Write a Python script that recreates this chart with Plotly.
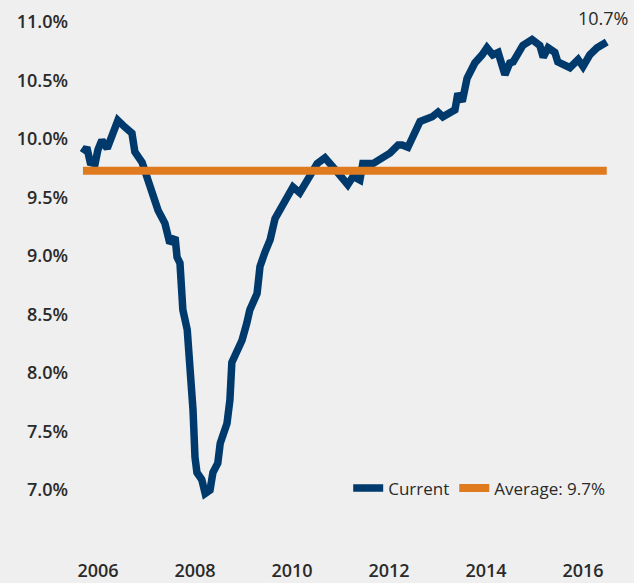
import plotly.graph_objects as go

# Decimal-year dates and values (%)
years = [2005.69, 2005.77, 2005.84, 2005.94, 2006.00, 2006.08, 2006.19, 2006.29, 2006.41, 2006.56,
         2006.70, 2006.76, 2006.91, 2007.03, 2007.18, 2007.24, 2007.38, 2007.48, 2007.59, 2007.63,
         2007.69, 2007.75, 2007.84, 2007.90, 2007.94, 2007.96, 2008.00, 2008.04, 2008.14, 2008.21,
         2008.31, 2008.37, 2008.47, 2008.52, 2008.66, 2008.72, 2008.76, 2008.87, 2008.97, 2009.07,
         2009.13, 2009.28, 2009.34, 2009.44, 2009.55, 2009.65, 2009.81, 2010.02, 2010.16, 2010.37,
         2010.52, 2010.68, 2010.82, 2010.95, 2011.15, 2011.26, 2011.40, 2011.46, 2011.67, 2011.88,
         2012.02, 2012.19, 2012.27, 2012.39, 2012.64, 2012.89, 2013.01, 2013.11, 2013.36, 2013.42,
         2013.51, 2013.61, 2013.77, 2013.92, 2014.02, 2014.14, 2014.25, 2014.39, 2014.49, 2014.56,
         2014.76, 2014.95, 2015.11, 2015.18, 2015.28, 2015.42, 2015.48, 2015.73, 2015.90, 2016.00,
         2016.14, 2016.29, 2016.49]
current = [9.88, 9.93, 9.80, 9.79, 9.91, 9.99, 9.92, 10.05, 10.16, 10.10,
           10.05, 9.89, 9.80, 9.65, 9.45, 9.39, 9.28, 9.11, 9.16, 8.99,
           8.94, 8.54, 8.37, 8.09, 7.94, 7.68, 7.28, 7.15, 7.09, 6.97,
           7.00, 7.15, 7.23, 7.40, 7.57, 7.77, 8.09, 8.20, 8.28, 8.43,
           8.54, 8.68, 8.91, 9.03, 9.14, 9.32, 9.45, 9.59, 9.54, 9.68,
           9.79, 9.84, 9.78, 9.71, 9.61, 9.68, 9.65, 9.79, 9.79, 9.85,
           9.88, 9.95, 9.95, 9.93, 10.15, 10.19, 10.23, 10.19, 10.25, 10.39,
           10.32, 10.52, 10.65, 10.72, 10.78, 10.72, 10.74, 10.55, 10.65, 10.66,
           10.80, 10.85, 10.80, 10.70, 10.78, 10.74, 10.66, 10.61, 10.68, 10.62,
           10.72, 10.78, 10.83]
average_value = 9.73
average = [average_value] * len(years)

x_tick_vals = [2006, 2008, 2010, 2012, 2014, 2016]
x_tick_text = ["2006", "2008", "2010", "2012", "2014", "2016"]
y_tick_vals = [7.0, 7.5, 8.0, 8.5, 9.0, 9.5, 10.0, 10.5, 11.0]
y_tick_text = ["7.0%", "7.5%", "8.0%", "8.5%", "9.0%", "9.5%", "10.0%", "10.5%", "11.0%"]
last_label = "10.7%"

NAVY = "#003a6c"
ORANGE = "#e07a1f"
TEXT = "#2a2a2a"
BG = "#efefef"

fig = go.Figure()
fig.add_trace(go.Scatter(x=years, y=current, mode="lines", name="Current",
                         line=dict(color=NAVY, width=7.5)))
fig.add_trace(go.Scatter(x=years, y=average, mode="lines", name="Average: 9.7%",
                         line=dict(color=ORANGE, width=8)))

fig.add_annotation(x=years[-1], y=current[-1], text=last_label, showarrow=False,
                   xanchor="right", yanchor="bottom", yshift=10, xshift=23,
                   font=dict(family="Open Sans", size=18, color=TEXT))

fig.update_layout(
    width=634, height=583,
    paper_bgcolor=BG, plot_bgcolor=BG,
    margin=dict(l=75, r=14, t=10, b=30),
    font=dict(family="Open Sans", size=18, color=TEXT),
    showlegend=True,
    legend=dict(orientation="h", x=0.982, y=0.119, xanchor="right", yanchor="middle",
                bgcolor="rgba(0,0,0,0)", font=dict(size=17, color=TEXT),
                itemwidth=30, tracegroupgap=0),
    xaxis=dict(range=[2005.526, 2016.763], tickvals=x_tick_vals, ticktext=x_tick_text,
               showgrid=False, zeroline=False, showline=False, ticks="", automargin=False,
               tickfont=dict(size=18, weight=600), ticklabelstandoff=5),
    yaxis=dict(range=[6.462, 11.103], tickvals=y_tick_vals, ticktext=y_tick_text,
               showgrid=False, zeroline=False, showline=False, ticks="", automargin=False,
               tickfont=dict(size=18, weight=600), ticklabelstandoff=6),
)

fig.write_html("out.html", config={"displayModeBar": False},
               post_script="document.body.style.margin='0';document.body.style.background='#efefef';")
